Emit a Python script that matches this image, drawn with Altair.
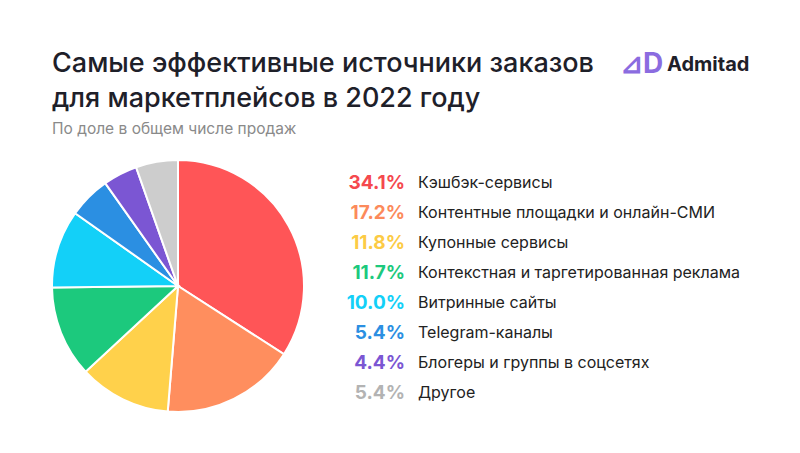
import altair as alt
import pandas as pd

categories = [
    "Кэшбэк-сервисы",
    "Контентные площадки и онлайн-СМИ",
    "Купонные сервисы",
    "Контекстная и таргетированная реклама",
    "Витринные сайты",
    "Telegram-каналы",
    "Блогеры и группы в соцсетях",
    "Другое",
]
values = [34.1, 17.2, 11.8, 11.7, 10.0, 5.4, 4.4, 5.4]
colors = ["#FF5557", "#FF8E5E", "#FFD14B", "#1CC97D", "#13D0F8", "#2B8FE2", "#7B56D3", "#CDCDCD"]
text_colors = ["#F5494E", "#FC8A5B", "#FCCB45", "#1CC97D", "#13D0F8", "#2B8FE2", "#7B56D3", "#B3B3B3"]

df = pd.DataFrame({
    "cat": categories,
    "value": values,
    "idx": list(range(len(categories))),
    "pct": [f"{v:.1f}%" for v in values],
})

FONT = "Inter"
color_scale = alt.Scale(domain=categories, range=colors)
text_scale = alt.Scale(domain=categories, range=text_colors)

base = alt.Chart(df)

pie = base.mark_arc(radius=126, stroke="white", strokeWidth=2).encode(
    theta=alt.Theta("value:Q", stack=True),
    order=alt.Order("idx:O"),
    color=alt.Color("cat:N", scale=color_scale, legend=None),
    x=alt.value(178),
    y=alt.value(286),
)

yenc = alt.Y("cat:N", scale=alt.Scale(type="point", domain=categories, range=[183, 393], padding=0), axis=None)

pct = base.mark_text(align="right", baseline="middle", fontSize=19, fontWeight="bold", font=FONT).encode(
    x=alt.value(405),
    y=yenc,
    text="pct:N",
    fill=alt.Fill("cat:N", scale=text_scale, legend=None),
)

lab = base.mark_text(align="left", baseline="middle", fontSize=16, font=FONT, color="#222222").encode(
    x=alt.value(418),
    y=yenc,
    text="cat:N",
)

title_df = pd.DataFrame({"t": ["Самые эффективные источники заказов", "для маркетплейсов в 2022 году"], "i": [0, 1]})
title = alt.Chart(title_df).mark_text(align="left", baseline="alphabetic", fontSize=27, fontWeight=500, font=FONT, color="#1E2029").encode(
    x=alt.value(52),
    y=alt.Y("i:O", scale=alt.Scale(type="point", domain=[0, 1], range=[72, 107], padding=0), axis=None),
    text="t:N",
)

sub = alt.Chart(pd.DataFrame({"t": ["По доле в общем числе продаж"]})).mark_text(
    align="left", baseline="middle", fontSize=15.5, font=FONT, color="#8A8A8A"
).encode(x=alt.value(52), y=alt.value(129), text="t:N")

logo_icon = alt.Chart(pd.DataFrame({"t": ["⊿D"]})).mark_text(
    align="left", baseline="middle", fontSize=28, fontWeight="bold", font=FONT, color="#8B6CE0"
).encode(x=alt.value(620), y=alt.value(65), text="t:N")

logo = alt.Chart(pd.DataFrame({"t": ["Admitad"]})).mark_text(
    align="left", baseline="middle", fontSize=20, fontWeight="bold", font=FONT, color="#1E2029"
).encode(x=alt.value(667), y=alt.value(65), text="t:N")

chart = alt.layer(pie, pct, lab, title, sub, logo_icon, logo).resolve_scale(y="independent").properties(
    width=800, height=453, padding=0, autosize="none", background="white"
).configure_view(stroke=None)

chart.save("out.html", embed_options={"renderer": "svg", "actions": False})
